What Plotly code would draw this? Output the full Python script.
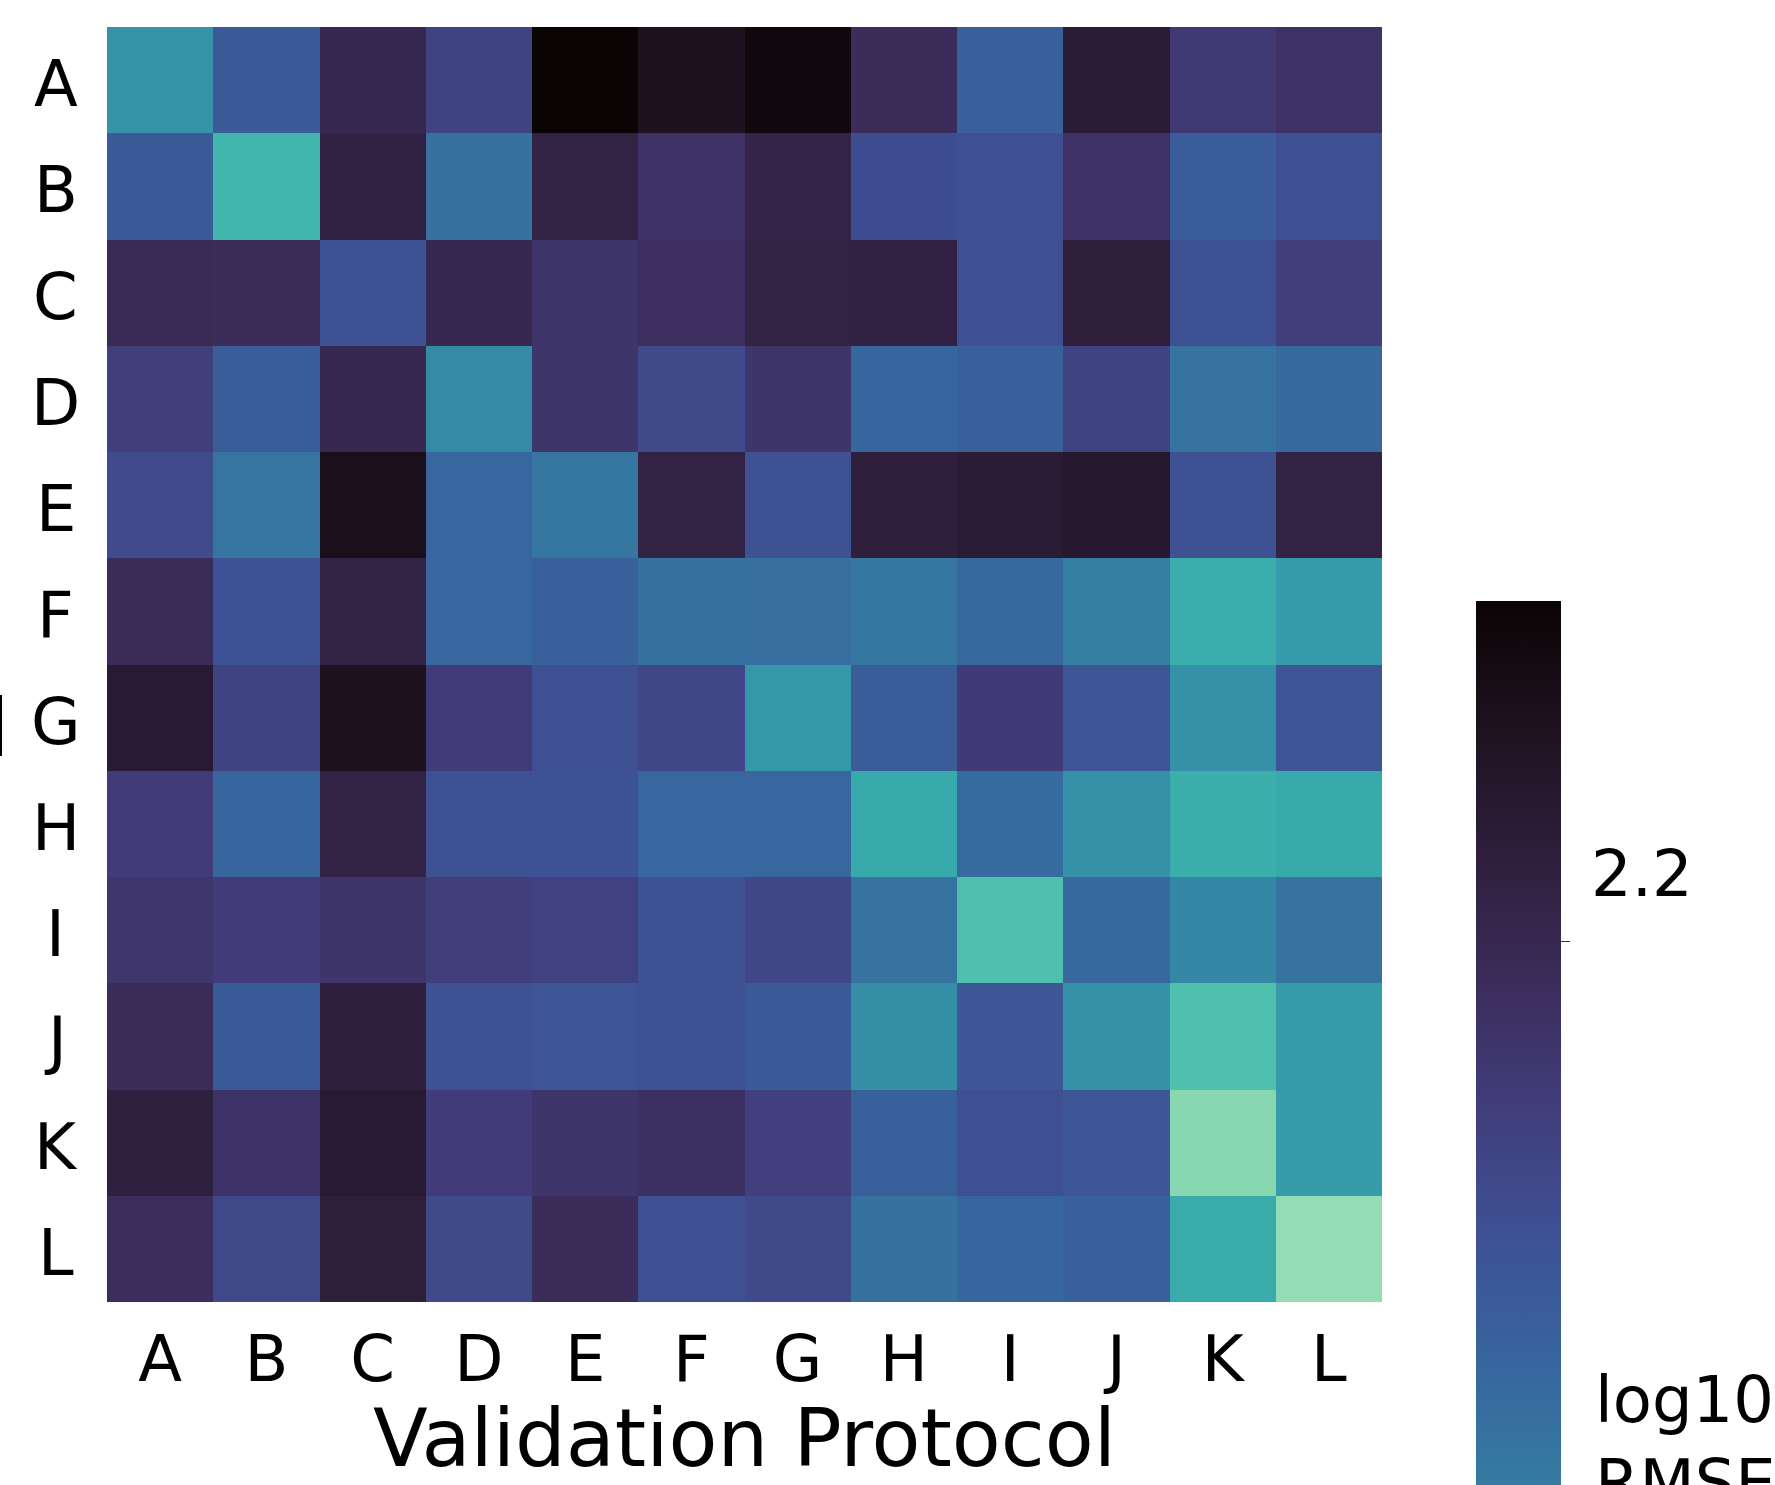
import plotly.graph_objects as go

# ---- data (log10 RMSE), rows = training protocol, cols = validation protocol ----
protocols = ["A", "B", "C", "D", "E", "F", "G", "H", "I", "J", "K", "L"]

row_A = [1.58, 1.89, 2.20, 2.02, 2.50, 2.39, 2.47, 2.17, 1.85, 2.30, 2.08, 2.13]
row_B = [1.89, 1.39, 2.25, 1.77, 2.24, 2.13, 2.23, 1.96, 1.95, 2.13, 1.88, 1.95]
row_C = [2.18, 2.17, 1.94, 2.20, 2.11, 2.15, 2.24, 2.25, 1.95, 2.28, 1.94, 2.05]
row_D = [2.05, 1.88, 2.20, 1.63, 2.11, 1.98, 2.11, 1.83, 1.85, 2.02, 1.76, 1.81]
row_E = [1.97, 1.75, 2.41, 1.82, 1.74, 2.24, 1.94, 2.27, 2.30, 2.33, 1.94, 2.24]
row_F = [2.17, 1.93, 2.24, 1.82, 1.85, 1.77, 1.78, 1.74, 1.81, 1.70, 1.44, 1.55]
row_G = [2.31, 2.02, 2.39, 2.06, 1.95, 2.00, 1.56, 1.88, 2.07, 1.91, 1.60, 1.92]
row_H = [2.06, 1.83, 2.24, 1.94, 1.93, 1.82, 1.82, 1.46, 1.80, 1.60, 1.43, 1.46]
row_I = [2.10, 2.06, 2.11, 2.05, 2.03, 1.94, 2.00, 1.76, 1.33, 1.81, 1.65, 1.76]
row_J = [2.17, 1.89, 2.27, 1.94, 1.92, 1.94, 1.89, 1.61, 1.91, 1.60, 1.33, 1.54]
row_K = [2.26, 2.12, 2.31, 2.06, 2.11, 2.14, 2.04, 1.85, 1.95, 1.91, 1.17, 1.53]
row_L = [2.16, 1.99, 2.28, 1.98, 2.17, 1.95, 1.98, 1.77, 1.83, 1.86, 1.45, 1.14]

z_values = [row_A, row_B, row_C, row_D, row_E, row_F,
            row_G, row_H, row_I, row_J, row_K, row_L]

z_min = 0.94
z_max = 2.5
cbar_tick_vals = [2.2]
cbar_tick_text = ["2.2"]

x_title = "Validation Protocol"
y_title = "Training Protocol"
cbar_title = "log10<br>RMSE"

# seaborn "mako" (position, colour); low values light, high values dark
mako = [
    (0.000, "#0B0405"), (0.071, "#1E121F"), (0.143, "#2E1E3B"),
    (0.214, "#3B2C5A"), (0.286, "#413D7B"), (0.357, "#3E5093"),
    (0.429, "#37659E"), (0.500, "#357BA2"), (0.571, "#348FA7"),
    (0.643, "#36A3AA"), (0.714, "#40B7AD"), (0.786, "#5DC9AD"),
    (0.857, "#8AD9B1"), (0.929, "#B5E6C9"), (1.000, "#DEF5E5"),
]
colorscale = sorted([[1.0 - t, c] for t, c in mako], key=lambda s: s[0])

# ---- layout geometry (pixels) ----
W, H = 1775, 1485
ML, MR, MT, MB = 107, 393, 27, 183
PW = W - ML - MR
PH = H - MT - MB


def px_x(px):
    return (px - ML) / PW


def px_y(py):
    return (H - MB - py) / PH


FONT = "DejaVu Sans"

fig = go.Figure(
    go.Heatmap(
        z=z_values,
        x=protocols,
        y=protocols,
        zmin=z_min,
        zmax=z_max,
        colorscale=colorscale,
        xgap=0,
        ygap=0,
        colorbar=dict(
            thickness=85,
            thicknessmode="pixels",
            len=1768,
            lenmode="pixels",
            x=px_x(1476),
            xanchor="left",
            xpad=0,
            y=px_y(601),
            yanchor="top",
            ypad=0,
            outlinewidth=0,
            tickmode="array",
            tickvals=cbar_tick_vals,
            ticktext=cbar_tick_text,
            ticks="outside",
            ticklen=9,
            tickwidth=1.3,
            tickcolor="#333333",
            showticklabels=False,
        ),
    )
)

annotations = []

# y category labels, centred horizontally as in the reference
for cat in protocols:
    annotations.append(dict(
        text=cat,
        xref="paper", yref="y",
        x=px_x(55.5), y=cat,
        xanchor="center", yanchor="middle",
        yshift=-4,
        showarrow=False,
        font=dict(family=FONT, size=64, color="black"),
    ))

# colorbar tick label (sits above its tick, as in the reference)
for val, txt in zip(cbar_tick_vals, cbar_tick_text):
    annotations.append(dict(
        text=txt,
        xref="paper", yref="paper",
        x=px_x(1589), y=px_y(874),
        xanchor="left", yanchor="middle",
        showarrow=False,
        font=dict(family=FONT, size=64, color="black"),
    ))

# y-axis title, mostly outside the left edge of the canvas
annotations.append(dict(
    text=y_title,
    xref="paper", yref="paper",
    x=px_x(10.5), y=px_y(729),
    xanchor="right", yanchor="middle",
    showarrow=False,
    font=dict(family=FONT, size=80, color="black"),
))

# colorbar title
annotations.append(dict(
    text=cbar_title,
    xref="paper", yref="paper",
    x=px_x(1593), y=px_y(1361),
    xanchor="left", yanchor="top",
    align="left",
    showarrow=False,
    font=dict(family=FONT, size=64, color="black"),
))

fig.update_layout(
    width=W,
    height=H,
    margin=dict(l=ML, r=MR, t=MT, b=MB, pad=0, autoexpand=False),
    paper_bgcolor="white",
    plot_bgcolor="white",
    font=dict(family=FONT, color="black"),
    xaxis=dict(
        range=[-0.5, 11.5],
        showgrid=False,
        zeroline=False,
        ticks="",
        tickfont=dict(family=FONT, size=64, color="black"),
        ticklabelstandoff=14,
        title=dict(text=x_title, font=dict(family=FONT, size=80, color="black"), standoff=0),
        automargin=False,
    ),
    yaxis=dict(
        range=[11.5, -0.5],
        showgrid=False,
        zeroline=False,
        ticks="",
        showticklabels=False,
        automargin=False,
    ),
    annotations=annotations,
)

fig.write_html("out.html")
